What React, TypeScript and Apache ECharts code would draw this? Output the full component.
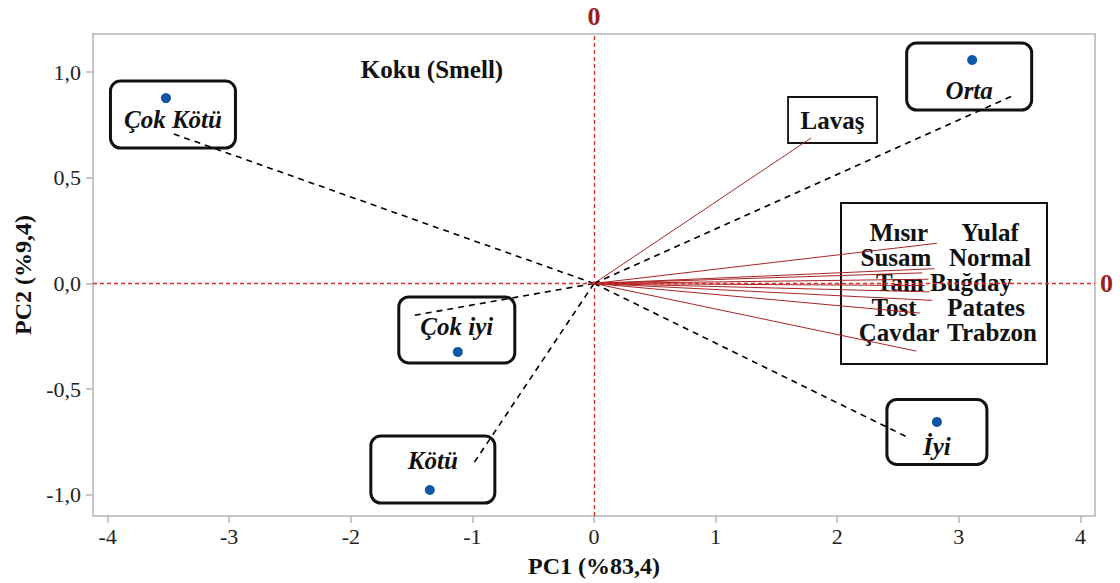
import React, { useEffect, useRef } from "react";
import * as echarts from "echarts";

// Scores (blue points)
const scoreNames = ["Çok Kötü", "Orta", "Çok iyi", "Kötü", "İyi"];
const scoreX = [-3.52, 3.11, -1.12, -1.35, 2.82];
const scoreY = [0.877, 1.057, -0.324, -0.977, -0.655];
// Dashed vector end points for the scores
const vecX = [-3.47, 3.44, -1.5, -1.0, 2.57];
const vecY = [0.71, 0.887, -0.153, -0.86, -0.725];

// Loadings (red lines)
const loadNames = ["Lavaş", "Mısır", "Yulaf", "Susam", "Normal", "Tam Buğday", "Tost", "Patates", "Çavdar", "Trabzon"];
const loadX = [1.785, 2.82, 2.8, 2.7, 2.75, 2.72, 2.76, 2.78, 2.68, 2.65];
const loadY = [0.688, 0.19, 0.07, 0.05, 0.02, -0.01, -0.04, -0.08, -0.14, -0.32];

const xTicks = [-4, -3, -2, -1, 0, 1, 2, 3, 4];
const yTicks = [-1, -0.5, 0, 0.5, 1];

const SERIF = "Liberation Serif";

// label box styles for the score labels (offset of box centre, box size, text top padding)
const scoreLabelStyle = [
  { off: [7, 16.5], w: 125, h: 67, pt: 25 },
  { off: [-3, 16.5], w: 125, h: 67, pt: 34 },
  { off: [-1, -22], w: 116, h: 66, pt: 17 },
  { off: [3, -20.5], w: 124, h: 67, pt: 12 },
  { off: [0, 10], w: 100, h: 65, pt: 34 },
];

// box of variable names layout
const boxRows = [
  [["Mısır", 899], ["Yulaf", 990]],
  [["Susam", 896], ["Normal", 990]],
  [["Tam Buğday", 944]],
  [["Tost", 894], ["Patates", 986]],
  [["Çavdar", 899], ["Trabzon", 992]],
];

export default function App() {
  const ref = useRef<HTMLDivElement>(null);
  useEffect(() => {
    if (!ref.current) return;
    document.body.style.margin = "0";
    const chart = echarts.init(ref.current, undefined, { renderer: "svg" });
    const LH = 26;
    const scoreData = scoreNames.map((n, i) => {
      const s = scoreLabelStyle[i];
      const pad = 6;
      const pb = s.h - LH - s.pt;
      return {
        name: n,
        value: [scoreX[i], scoreY[i]],
        label: {
          show: true,
          position: "inside",
          offset: s.off,
          formatter: "{a| }\n{t|" + n + "}\n{b| }",
          width: s.w - 2 * pad,
          align: "center",
          padding: [0, pad, 0, pad],
          borderColor: "#111",
          borderWidth: 1.5,
          borderRadius: 10,
          backgroundColor: "transparent",
          rich: {
            a: { fontSize: 1, lineHeight: s.pt, height: s.pt },
            b: { fontSize: 1, lineHeight: pb, height: pb },
            t: {
              fontFamily: SERIF,
              fontStyle: "italic",
              fontWeight: "bold",
              fontSize: 25,
              lineHeight: LH,
              color: "#111",
            },
          },
        },
      };
    });

    const graphics: any[] = [
      {
        type: "text",
        x: 432,
        y: 69,
        style: {
          text: "Koku (Smell)",
          fontFamily: SERIF,
          fontWeight: "bold",
          fontSize: 25,
          fill: "#111",
          textAlign: "center",
          textVerticalAlign: "middle",
        },
      },
      {
        type: "rect",
        shape: { x: 841, y: 203, width: 206, height: 161 },
        style: { fill: "none", stroke: "#111", lineWidth: 2 },
        z: 1,
      },
    ];
    boxRows.forEach((row, r) => {
      row.forEach(([t, x]) => {
        graphics.push({
          type: "text",
          x: x as number,
          y: 232 + r * 25,
          z: 1,
          style: {
            text: t as string,
            fontFamily: SERIF,
            fontWeight: "bold",
            fontSize: 25,
            fill: "#111",
            textAlign: "center",
            textVerticalAlign: "middle",
          },
        });
      });
    });

    const fmtY = (v: number) => v.toFixed(1).replace(".", ",");
    const fmtX = (v: number) => String(v);

    chart.setOption({
      animation: false,
      backgroundColor: "#fff",
      textStyle: { fontFamily: SERIF },
      grid: { left: 93, right: 25, top: 34, bottom: 67, containLabel: false, outerBoundsMode: "none" },
      xAxis: [
        {
          type: "value",
          min: -4.12,
          max: 4.12,
          position: "bottom",
          name: "PC1 (%83,4)",
          nameLocation: "middle",
          nameGap: 38,
          nameTextStyle: { fontFamily: SERIF, fontWeight: "bold", fontSize: 24, color: "#111" },
          axisLine: { show: true, onZero: false, lineStyle: { color: "#b4b4b4", width: 1.5 } },
          axisTick: { show: true, customValues: xTicks, length: 7, lineStyle: { color: "#b4b4b4", width: 1.5 } },
          axisLabel: {
            customValues: xTicks,
            formatter: fmtX,
            fontFamily: SERIF,
            fontSize: 22,
            color: "#222",
            margin: 9,
          },
          splitLine: { show: false },
        },
        {
          type: "value",
          min: -4.12,
          max: 4.12,
          position: "top",
          axisLine: { show: true, onZero: false, lineStyle: { color: "#b4b4b4", width: 1.5 } },
          axisTick: { show: false },
          axisLabel: { show: false },
          splitLine: { show: false },
        },
      ],
      yAxis: [
        {
          type: "value",
          min: -1.1,
          max: 1.18,
          position: "left",
          name: "PC2 (%9,4)",
          nameLocation: "middle",
          nameGap: 58,
          nameTextStyle: { fontFamily: SERIF, fontWeight: "bold", fontSize: 24, color: "#111" },
          axisLine: { show: true, onZero: false, lineStyle: { color: "#b4b4b4", width: 1.5 } },
          axisTick: { show: true, customValues: yTicks, length: 7, lineStyle: { color: "#b4b4b4", width: 1.5 } },
          axisLabel: {
            customValues: yTicks,
            formatter: fmtY,
            fontFamily: SERIF,
            fontSize: 22,
            color: "#222",
            margin: 12,
          },
          splitLine: { show: false },
        },
        {
          type: "value",
          min: -1.1,
          max: 1.18,
          position: "right",
          axisLine: { show: true, onZero: false, lineStyle: { color: "#b4b4b4", width: 1.5 } },
          axisTick: { show: false },
          axisLabel: { show: false },
          splitLine: { show: false },
        },
      ],
      graphic: graphics,
      series: [
        {
          type: "lines",
          coordinateSystem: "cartesian2d",
          silent: true,
          z: 3,
          lineStyle: { color: "#a31818", width: 1, opacity: 0.95 },
          data: loadNames.map((n, i) => ({ name: n, coords: [[0, 0], [loadX[i], loadY[i]]] })),
        },
        {
          type: "lines",
          coordinateSystem: "cartesian2d",
          silent: true,
          z: 3,
          lineStyle: { color: "#000", width: 1.6, type: [6, 5], opacity: 1 },
          data: scoreNames.map((n, i) => ({ name: n, coords: [[0, 0], [vecX[i], vecY[i]]] })),
        },
        {
          type: "scatter",
          symbol: "circle",
          symbolSize: 1,
          z: 2,
          itemStyle: { color: "rgba(0,0,0,0)", opacity: 1 },
          data: [
            {
              name: loadNames[0],
              value: [loadX[0], loadY[0]],
              label: {
                show: true,
                position: "inside",
                offset: [21.5, -18],
                formatter: loadNames[0],
                width: 65,
                align: "center",
                lineHeight: 26,
                padding: [10, 12, 10, 12],
                borderColor: "#111",
                borderWidth: 1.8,
                borderRadius: 0,
                fontFamily: SERIF,
                fontWeight: "bold",
                fontSize: 25,
                color: "#111",
              },
            },
          ],
        },
        {
          type: "scatter",
          symbol: "circle",
          symbolSize: 10,
          z: 4,
          itemStyle: { color: "#0f56a8", opacity: 1 },
          data: scoreData,
          markLine: {
            silent: true,
            symbol: "none",
            lineStyle: { color: "#e02a2a", width: 1.3, type: [4, 3] },
            label: {
              show: true,
              position: "end",
              formatter: "0",
              fontFamily: SERIF,
              fontWeight: "bold",
              fontSize: 26,
              color: "#9b1c22",
              distance: 5,
            },
            data: [{ xAxis: 0 }, { yAxis: 0 }],
          },
        },
      ],
    });
    return () => chart.dispose();
  }, []);
  return <div ref={ref} style={{ width: 1120, height: 583 }} />;
}
